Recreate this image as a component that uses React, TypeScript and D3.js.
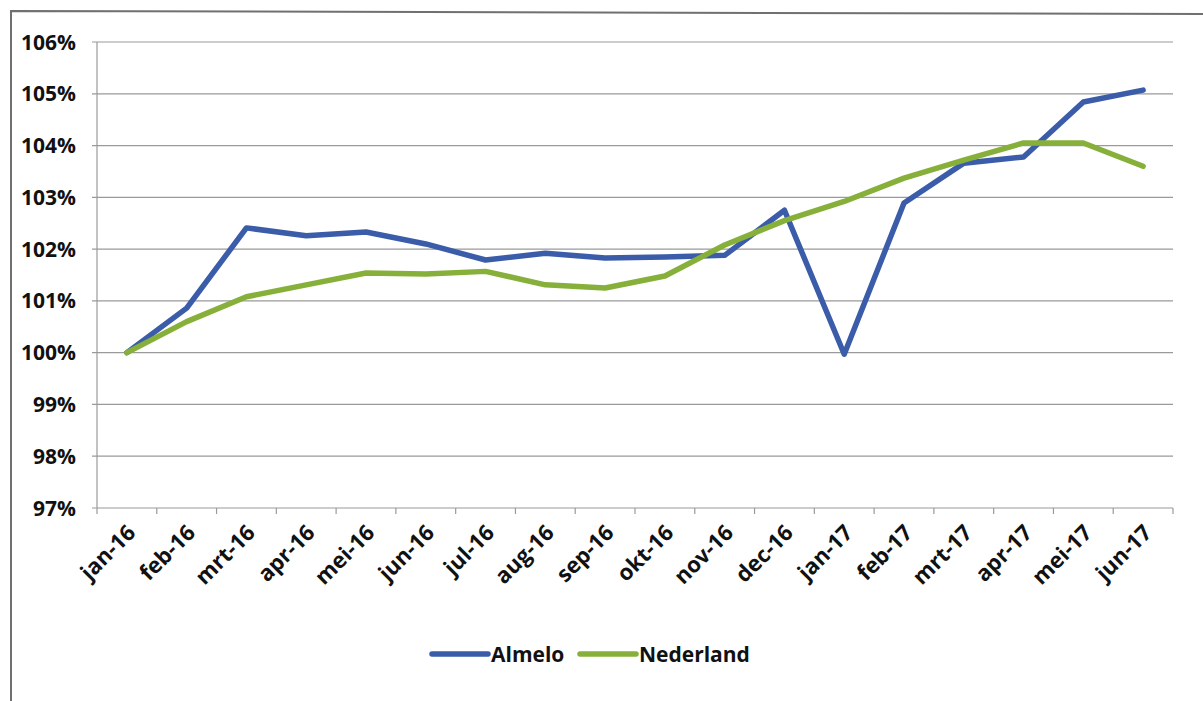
import React from "react";
import * as d3 from "d3";

const categories = ["jan-16","feb-16","mrt-16","apr-16","mei-16","jun-16","jul-16","aug-16","sep-16","okt-16","nov-16","dec-16","jan-17","feb-17","mrt-17","apr-17","mei-17","jun-17"];
const almelo = [100, 100.86, 102.41, 102.26, 102.33, 102.1, 101.79, 101.92, 101.83, 101.85, 101.88, 102.75, 99.97, 102.89, 103.66, 103.78, 104.84, 105.07];
const nederland = [100, 100.6, 101.08, 101.31, 101.54, 101.52, 101.57, 101.31, 101.25, 101.48, 102.08, 102.55, 102.92, 103.37, 103.72, 104.05, 104.05, 103.6];
const yTicks = [97, 98, 99, 100, 101, 102, 103, 104, 105, 106];
const seriesNames = ["Almelo", "Nederland"];
const colors = ["#3a5ca9", "#86b03a"];

const W = 1203, H = 701;
const left = 97, right = 1173, top = 42, bottom = 508;

export default function App() {
  const x = d3.scaleBand<string>().domain(categories).range([left, right]);
  const y = d3.scaleLinear().domain([97, 106]).range([bottom, top]);
  const line = d3.line<number>()
    .x((_, i) => (x(categories[i]) as number) + x.bandwidth() / 2)
    .y((d) => y(d));
  const font = "'Open Sans', 'DejaVu Sans', sans-serif";
  const series = [almelo, nederland];
  const legendX = [432, 580];
  return (
    <svg width={W} height={H} style={{ position: "absolute", left: 0, top: 0, background: "#fff" }} fontFamily={font}>
      <rect x={0} y={0} width={W} height={H} fill="#fff" />
      {/* frame */}
      <path d="M11,702 L11,11 L1203,14" fill="none" stroke="#707070" strokeWidth={2} />
      {/* grid lines */}
      {yTicks.map((t) => (
        <g key={t}>
          <line x1={left - 5} x2={right} y1={y(t)} y2={y(t)} stroke="#9a9a9a" strokeWidth={1.2} />
          <text x={76} y={y(t)} dy="0.36em" textAnchor="end" fontSize={21} fontWeight={700} fill="#111">{t}%</text>
        </g>
      ))}
      {/* y axis */}
      <line x1={left} x2={left} y1={top} y2={bottom} stroke="#9a9a9a" strokeWidth={1.2} />
      {/* x ticks */}
      {categories.map((c) => (
        <line key={"t" + c} x1={(x(c) as number)} x2={(x(c) as number)} y1={bottom} y2={bottom + 6} stroke="#9a9a9a" strokeWidth={1.2} />
      ))}
      <line x1={right} x2={right} y1={bottom} y2={bottom + 6} stroke="#9a9a9a" strokeWidth={1.2} />
      {/* x labels */}
      {categories.map((c) => {
        const cx = (x(c) as number) + x.bandwidth() / 2 + 10;
        const cy = 534;
        return (
          <text key={"l" + c} x={cx} y={cy} textAnchor="end" fontSize={22} fontWeight={700} fill="#111" transform={`rotate(-45 ${cx} ${cy})`}>{c}</text>
        );
      })}
      {/* lines */}
      {series.map((s, k) => (
        <path key={seriesNames[k]} d={line(s) as string} fill="none" stroke={colors[k]} strokeWidth={5.5} strokeLinejoin="round" strokeLinecap="round" />
      ))}
      {/* legend */}
      {seriesNames.map((n, k) => (
        <g key={"lg" + n}>
          <line x1={legendX[k]} x2={legendX[k] + 56} y1={654} y2={654} stroke={colors[k]} strokeWidth={5.5} strokeLinecap="round" />
          <text x={legendX[k] + 59} y={654} dy="0.36em" fontSize={21} fontWeight={700} fill="#111">{n}</text>
        </g>
      ))}
    </svg>
  );
}
